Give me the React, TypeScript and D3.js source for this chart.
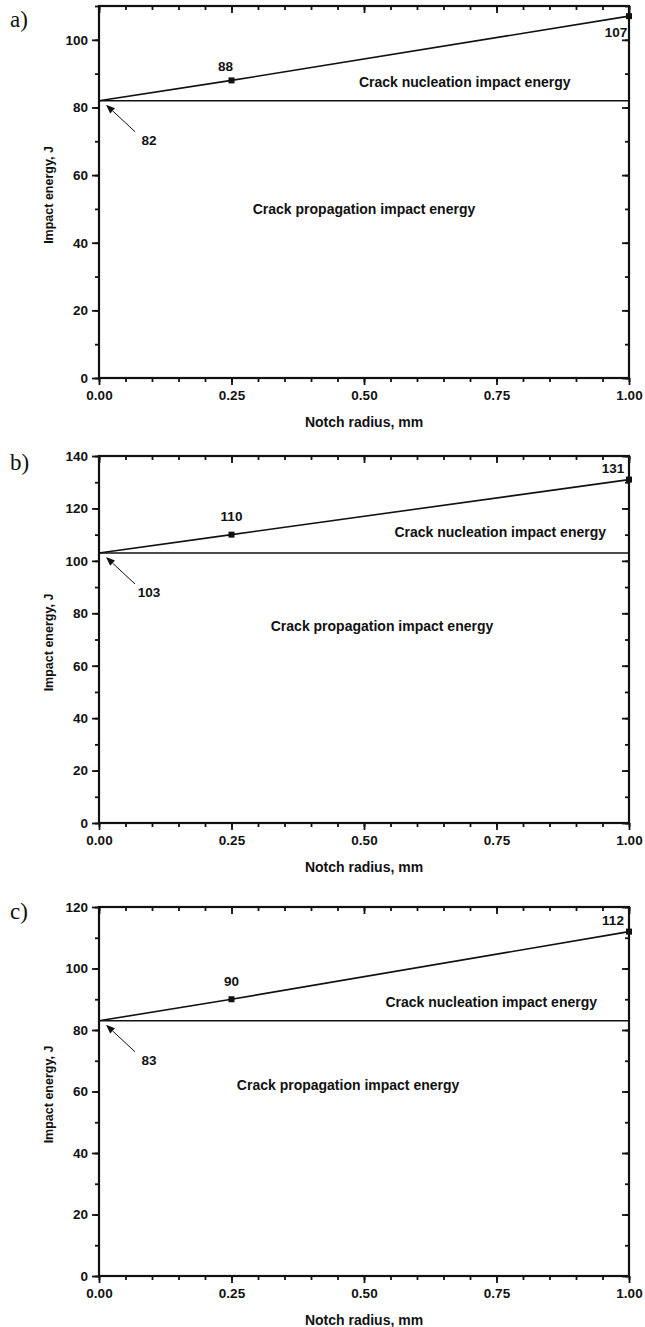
import React, { useEffect, useRef } from "react";
import * as d3 from "d3";

// notch radius (mm) for the three specimens
const notchRadius = [0, 0.25, 1.0];

// impact energy, J (a, b, c)
const energyA = [82, 88, 107];
const energyB = [103, 110, 131];
const energyC = [83, 90, 112];

const yTicksA = [0, 20, 40, 60, 80, 100];
const yTicksB = [0, 20, 40, 60, 80, 100, 120, 140];
const yTicksC = [0, 20, 40, 60, 80, 100, 120];
const xTicks = [0, 0.25, 0.5, 0.75, 1.0];

const xTitle = "Notch radius, mm";
const yTitle = "Impact energy, J";
const nucleationText = "Crack nucleation impact energy";
const propagationText = "Crack propagation impact energy";

const FONT = "'Liberation Sans', Arial, Helvetica, sans-serif";
const INK = "#111";
const LEFT = 99;
const RIGHT = 629;

type PanelProps = {
  letter: string;
  letterY: number;
  values: number[];
  yMax: number;
  yTicks: number[];
  top: number;
  bottom: number;
  nucleationAt: [number, number];
  propagationAt: [number, number];
  midOff: [number, number];
  endOff: [number, number];
};

function Panel(p: PanelProps) {
  const axesRef = useRef<SVGGElement>(null);

  const x = d3.scaleLinear().domain([0, 1]).range([LEFT, RIGHT]);
  const y = d3.scaleLinear().domain([0, p.yMax]).range([p.bottom, p.top]);

  useEffect(() => {
    const g = d3.select(axesRef.current);
    g.selectAll("*").remove();
    const minorX = d3.range(0, 1.0001, 0.05);
    const minorY = d3.range(0, p.yMax + 0.01, 10);
    const w = RIGHT - LEFT;
    const h = p.bottom - p.top;

    const put = (axis: any, tx: number, ty: number) => {
      const a = g.append("g").attr("transform", `translate(${tx},${ty})`).call(axis);
      a.select(".domain").remove();
      a.selectAll("line").attr("stroke", INK).attr("stroke-width", 1.8);
      a.selectAll("text")
        .attr("font-family", FONT)
        .attr("font-weight", "bold")
        .attr("font-size", 13.5)
        .attr("fill", INK);
      return a;
    };

    // minor ticks
    put(d3.axisLeft(y).tickValues(minorY).tickSize(4).tickFormat(() => ""), LEFT, 0);
    put(d3.axisRight(y).tickValues(minorY).tickSize(-4).tickFormat(() => ""), RIGHT, 0);
    put(d3.axisBottom(x).tickValues(minorX).tickSize(4).tickFormat(() => ""), 0, p.bottom);
    put(d3.axisTop(x).tickValues(minorX).tickSize(-4).tickFormat(() => ""), 0, p.top);

    // major ticks
    put(d3.axisLeft(y).tickValues(p.yTicks).tickSize(7).tickPadding(4).tickFormat(d3.format("d")), LEFT, 0);
    put(d3.axisRight(y).tickValues(p.yTicks).tickSize(-7).tickFormat(() => ""), RIGHT, 0);
    put(d3.axisBottom(x).tickValues(xTicks).tickSize(7).tickPadding(5).tickFormat(d3.format(".2f")), 0, p.bottom);
    put(d3.axisTop(x).tickValues(xTicks).tickSize(-7).tickFormat(() => ""), 0, p.top);

    g.append("rect")
      .attr("x", LEFT)
      .attr("y", p.top)
      .attr("width", w)
      .attr("height", h)
      .attr("fill", "none")
      .attr("stroke", INK)
      .attr("stroke-width", 2.2);
  }, [p.yMax, p.top, p.bottom]);

  const line = d3
    .line<number>()
    .x((_, i) => x(notchRadius[i]))
    .y((d) => y(d));

  const x0 = x(notchRadius[0]);
  const y0 = y(p.values[0]);
  // arrow from label to first point
  const tip: [number, number] = [x0 + 7, y0 + 4];
  const tail: [number, number] = [x0 + 36, y0 + 31];
  const ang = Math.atan2(tip[1] - tail[1], tip[0] - tail[0]);
  const hl = 9;
  const hw = 3.5;
  const base: [number, number] = [tip[0] - hl * Math.cos(ang), tip[1] - hl * Math.sin(ang)];
  const head = [
    tip,
    [base[0] + hw * Math.sin(ang), base[1] - hw * Math.cos(ang)],
    [base[0] - hw * Math.sin(ang), base[1] + hw * Math.cos(ang)],
  ]
    .map((q) => q.join(","))
    .join(" ");

  const txt = {
    fontFamily: FONT,
    fontWeight: "bold" as const,
    fill: INK,
  };

  return (
    <g>
      <text x={10} y={p.letterY} fontFamily="'Liberation Serif', 'Times New Roman', serif" fontSize={23} fill={INK}>
        {p.letter}
      </text>
      <g ref={axesRef} />
      {/* nucleation baseline */}
      <line x1={x(0)} x2={x(1)} y1={y0} y2={y0} stroke={INK} strokeWidth={1.6} />
      <path d={line(p.values) ?? ""} fill="none" stroke={INK} strokeWidth={1.6} />
      {p.values.slice(1).map((v, i) => (
        <rect
          key={i}
          x={x(notchRadius[i + 1]) - 3}
          y={y(v) - 3}
          width={6}
          height={6}
          fill={INK}
        />
      ))}
      <text {...txt} fontSize={13.5} textAnchor="middle" dominantBaseline="central"
        x={x(notchRadius[1]) + p.midOff[0]} y={y(p.values[1]) + p.midOff[1]}>
        {p.values[1]}
      </text>
      <text {...txt} fontSize={13.5} textAnchor="middle" dominantBaseline="central"
        x={x(notchRadius[2]) + p.endOff[0]} y={y(p.values[2]) + p.endOff[1]}>
        {p.values[2]}
      </text>
      <line x1={tail[0]} y1={tail[1]} x2={base[0]} y2={base[1]} stroke={INK} strokeWidth={1} />
      <polygon points={head} fill={INK} />
      <text {...txt} fontSize={13.5} textAnchor="middle" dominantBaseline="central" x={x0 + 50} y={y0 + 40}>
        {p.values[0]}
      </text>
      <text {...txt} fontSize={14} textAnchor="middle" dominantBaseline="central"
        x={x(p.nucleationAt[0])} y={y(p.nucleationAt[1])}>
        {nucleationText}
      </text>
      <text {...txt} fontSize={14} textAnchor="middle" dominantBaseline="central"
        x={x(p.propagationAt[0])} y={y(p.propagationAt[1])}>
        {propagationText}
      </text>
      <text {...txt} fontSize={14} textAnchor="middle" dominantBaseline="central"
        x={(LEFT + RIGHT) / 2} y={p.bottom + 44}>
        {xTitle}
      </text>
      <text {...txt} fontSize={12.5} textAnchor="middle" dominantBaseline="central"
        transform={`translate(49,${(p.top + p.bottom) / 2 + 3}) rotate(-90)`}>
        {yTitle}
      </text>
    </g>
  );
}

export default function App() {
  return (
    <svg
      width={645}
      height={1327}
      style={{ position: "absolute", left: 0, top: 0, background: "#fff" }}
    >
      <rect width={645} height={1327} fill="#fff" />
      <Panel
        letter="a)"
        letterY={27}
        values={energyA}
        yMax={110}
        yTicks={yTicksA}
        top={6}
        bottom={378}
        nucleationAt={[0.69, 87.6]}
        propagationAt={[0.5, 50]}
        midOff={[-6, -14]}
        endOff={[-13, 16]}
      />
      <Panel
        letter="b)"
        letterY={470}
        values={energyB}
        yMax={140}
        yTicks={yTicksB}
        top={456}
        bottom={823}
        nucleationAt={[0.757, 111]}
        propagationAt={[0.534, 75]}
        midOff={[0, -18]}
        endOff={[-16, -11]}
      />
      <Panel
        letter="c)"
        letterY={919}
        values={energyC}
        yMax={120}
        yTicks={yTicksC}
        top={907}
        bottom={1276}
        nucleationAt={[0.74, 89.2]}
        propagationAt={[0.47, 62]}
        midOff={[0, -18]}
        endOff={[-16, -11]}
      />
    </svg>
  );
}
